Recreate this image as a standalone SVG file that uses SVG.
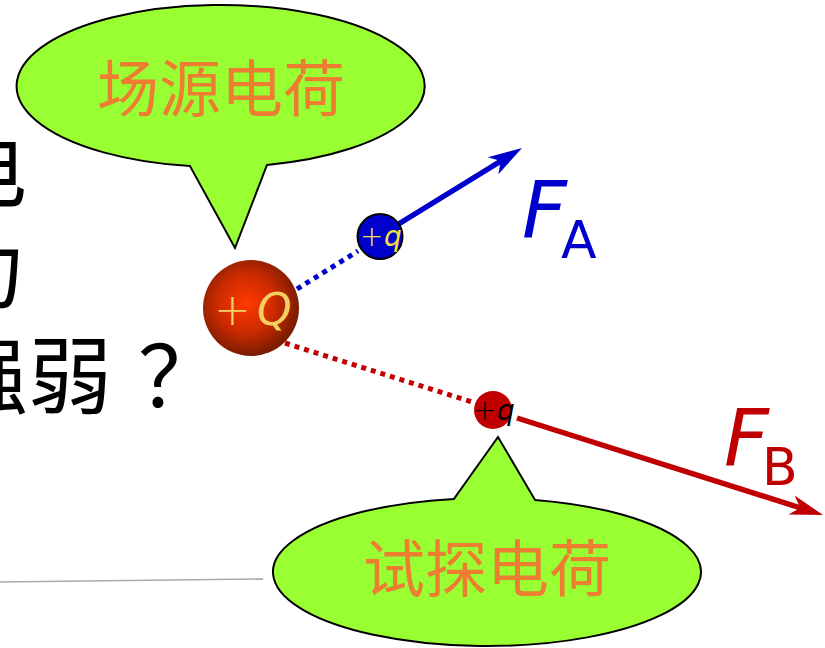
<svg xmlns="http://www.w3.org/2000/svg" width="825" height="648" viewBox="0 0 825 648">
<style>
.big{font-family:"Noto Sans CJK SC","Noto Sans",sans-serif;font-size:84px;fill:#000}
.callout{fill:#99FF33;stroke:#000;stroke-width:2}
.ctext{font-family:"Noto Sans CJK SC",sans-serif;font-size:62px;fill:#ED7D31;text-anchor:middle}
.sym{font-family:"DejaVu Sans",sans-serif}
.thin{font-weight:200}
</style>
<defs>
<radialGradient id="gQ" cx="0.45" cy="0.45" r="0.55">
<stop offset="0" stop-color="#FF3A00"/>
<stop offset="0.55" stop-color="#CC2A00"/>
<stop offset="1" stop-color="#7A1C00"/>
</radialGradient>
<marker id="ahBlue" viewBox="-36 -12 38 24" refX="-20" refY="0" markerWidth="38" markerHeight="24" markerUnits="userSpaceOnUse" orient="auto">
<path d="M0,0 L-34,-10 L-25,0 L-34,10 Z" fill="#0000CC"/>
</marker>
<marker id="ahRed" viewBox="-36 -12 38 24" refX="-20" refY="0" markerWidth="38" markerHeight="24" markerUnits="userSpaceOnUse" orient="auto">
<path d="M0,0 L-33,-10 L-24,0 L-33,10 Z" fill="#C00000"/>
</marker>
</defs>

<g id="question">
<text class="big" x="-57" y="201">电</text>
<text class="big" x="-58" y="302">力</text>
<text class="big" x="-56" y="407">强弱<tspan x="138">？</tspan></text>
</g>

<line id="rule" x1="0" y1="582" x2="263" y2="579" stroke="#AAAAAA" stroke-width="1.5"/>

<g id="connectors">
<line x1="297" y1="289" x2="358" y2="251" stroke="#0000CC" stroke-width="5" stroke-dasharray="5 5"/>
<line x1="285" y1="343" x2="475" y2="403" stroke="#C00000" stroke-width="5" stroke-dasharray="5 5"/>
<line x1="397" y1="225" x2="505" y2="158.5" stroke="#0000CC" stroke-width="5.5" marker-end="url(#ahBlue)"/>
<line x1="517" y1="418" x2="804" y2="509" stroke="#C00000" stroke-width="5.5" marker-end="url(#ahRed)"/>
</g>

<g id="source-callout">
<path class="callout" d="M267,164.9 A204,81 0 1,0 190,166.1 L235,248 Z"/>
<text class="ctext" x="221" y="112">场源电荷</text>
</g>

<g id="test-callout">
<path class="callout" d="M454,498.9 A214,74 0 1,0 535,499.9 L498,437 Z"/>
<text class="ctext" x="487" y="592">试探电荷</text>
</g>

<g id="charge-Q">
<circle cx="251" cy="308" r="48" fill="url(#gQ)"/>
<text class="sym thin" x="214" y="325" font-size="44" fill="#F5D060">+<tspan x="257" font-style="italic">Q</tspan></text>
</g>

<g id="charge-qA">
<circle cx="380" cy="236.5" r="22.5" fill="#0000CC" stroke="#000" stroke-width="2"/>
<text class="sym thin" x="360" y="246" font-size="28" fill="#F0E040">+<tspan x="384" font-style="italic">q</tspan></text>
</g>

<g id="charge-qB">
<circle cx="493" cy="410" r="19" fill="#C00000"/>
<text class="sym thin" x="473" y="420" font-size="28" fill="#000">+<tspan x="497" font-style="italic">q</tspan></text>
</g>

<g id="label-FA">
<text class="sym" x="522" y="237" font-size="78" fill="#0000CC" font-style="italic">F</text>
<text class="sym" x="561" y="258" font-size="52" fill="#0000CC">A</text>
</g>

<g id="label-FB">
<text class="sym" x="724" y="465" font-size="78" fill="#C00000" font-style="italic">F</text>
<text class="sym" x="762" y="485" font-size="52" fill="#C00000">B</text>
</g>
</svg>
